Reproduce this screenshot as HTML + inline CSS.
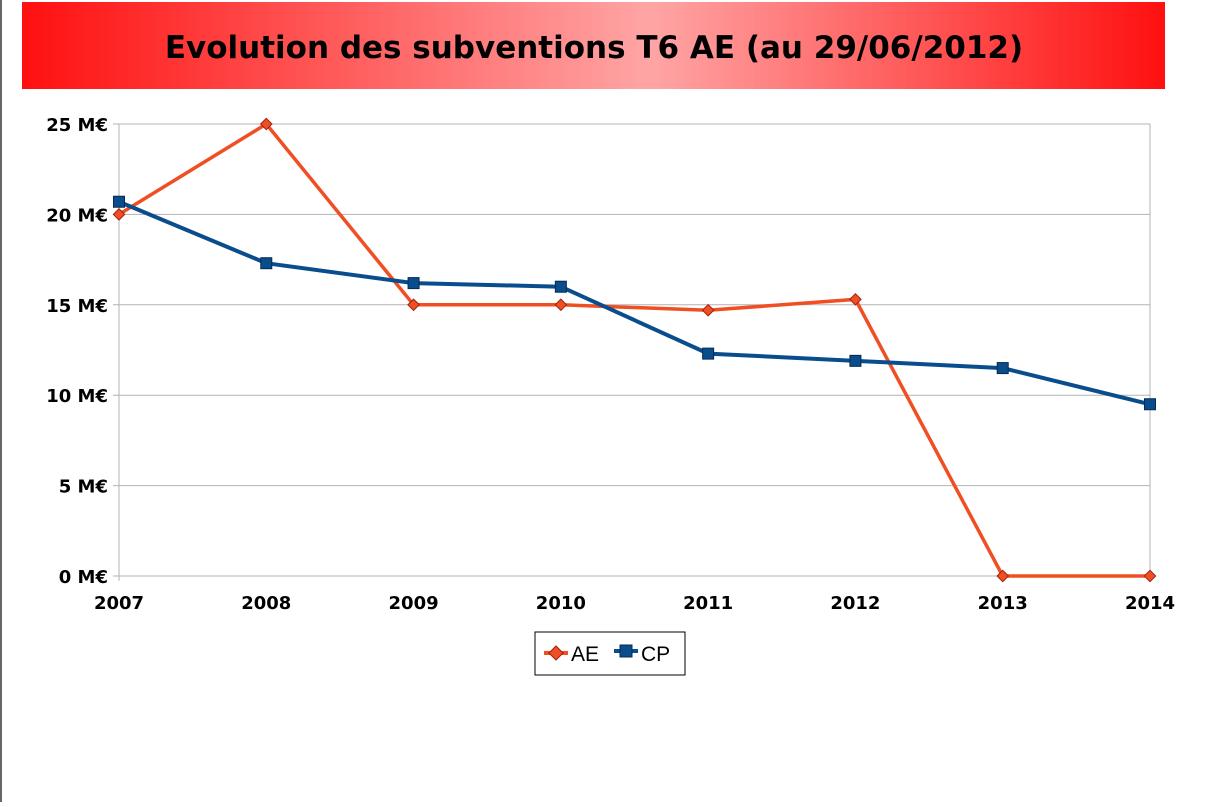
<!DOCTYPE html>
<html><head><meta charset="utf-8"><style>
body{margin:0;background:#fff;width:1205px;height:802px;overflow:hidden;font-family:"Liberation Sans",sans-serif}
</style></head><body>
<svg width="1205" height="802">
<defs>
<linearGradient id="bg" x1="0" x2="1"><stop offset="0" stop-color="#ff1010"/><stop offset="0.55" stop-color="#ffa5a5"/><stop offset="1" stop-color="#ff1010"/></linearGradient>
</defs>
<line x1="1" y1="0" x2="1" y2="802" stroke="#666" stroke-width="2"/>
<rect x="22" y="2" width="1143" height="87" fill="url(#bg)"/>
<text x="594" y="58" text-anchor="middle" font-size="31" font-weight="bold" font-family="DejaVu Sans, sans-serif" fill="#000">Evolution des subventions T6 AE (au 29/06/2012)</text>
<g id="plot"></g>
<g>
<rect x="535" y="632" width="150" height="43" fill="#fff" stroke="#000"/>
<line x1="544" y1="653" x2="568" y2="653" stroke="#f04e23" stroke-width="4"/>
<rect x="551" y="648" width="10" height="10" fill="#f04e23" stroke="#a02010" transform="rotate(45 556 653)"/>
<text x="571" y="661" font-size="21">AE</text>
<line x1="614" y1="651" x2="638" y2="651" stroke="#0a4d8c" stroke-width="4"/>
<rect x="620" y="645" width="12" height="12" fill="#0a4d8c" stroke="#062a50"/>
<text x="641" y="661" font-size="21">CP</text>
</g>
</svg>
<script>
const categories=["2007","2008","2009","2010","2011","2012","2013","2014"];
const aeValues=[20,25,15,15,14.7,15.3,0,0];
const cpValues=[20.7,17.3,16.2,16.0,12.3,11.9,11.5,9.5];
const yTicks=[0,5,10,15,20,25];
const yTickLabels=["0 M€","5 M€","10 M€","15 M€","20 M€","25 M€"];
const NS="http://www.w3.org/2000/svg";
const L=119,R=1150,T=124,B=576;
const x=i=>L+i*(R-L)/(categories.length-1);
const y=v=>B-v*(B-T)/25;
const g=document.getElementById('plot');
const FF="DejaVu Sans, sans-serif";
function mk(t,a){const e=document.createElementNS(NS,t);for(const k in a)e.setAttribute(k,a[k]);g.appendChild(e);return e;}
yTicks.forEach((v,i)=>{
 const l=mk('line',{x1:L-6,x2:R,y1:y(v),y2:y(v),stroke:'#b3b3b3','stroke-width':1});
 
 
 const t=mk('text',{x:L-11,y:y(v)+7,'text-anchor':'end','font-size':18,'font-weight':'bold','font-family':FF});
 t.textContent=yTickLabels[i];
 
 
});
const ax=mk('line',{x1:L,x2:L,y1:T,y2:B+5,stroke:'#b3b3b3'});


const rx=mk('line',{x1:R,x2:R,y1:T,y2:B,stroke:'#b3b3b3'});


categories.forEach((c,i)=>{
 const t=mk('text',{x:x(i),y:609,'text-anchor':'middle','font-size':18,'font-weight':'bold','font-family':FF});
 t.textContent=c;
 
 
});
const ae=mk('polyline',{points:aeValues.map((v,i)=>x(i)+','+y(v)).join(' '),fill:'none',stroke:'#f04e23','stroke-width':3.5});


const cp=mk('polyline',{points:cpValues.map((v,i)=>x(i)+','+y(v)).join(' '),fill:'none',stroke:'#0a4d8c','stroke-width':4});


aeValues.forEach((v,i)=>{
 const m=mk('rect',{x:x(i)-4,y:y(v)-4,width:8,height:8,fill:'#f04e23',stroke:'#a02010',transform:`rotate(45 ${x(i)} ${y(v)})`});
 
 
});
cpValues.forEach((v,i)=>{
 const m=mk('rect',{x:x(i)-5.5,y:y(v)-5.5,width:11,height:11,fill:'#0a4d8c',stroke:'#062a50'});
 
 
});
</script>
</body></html>
